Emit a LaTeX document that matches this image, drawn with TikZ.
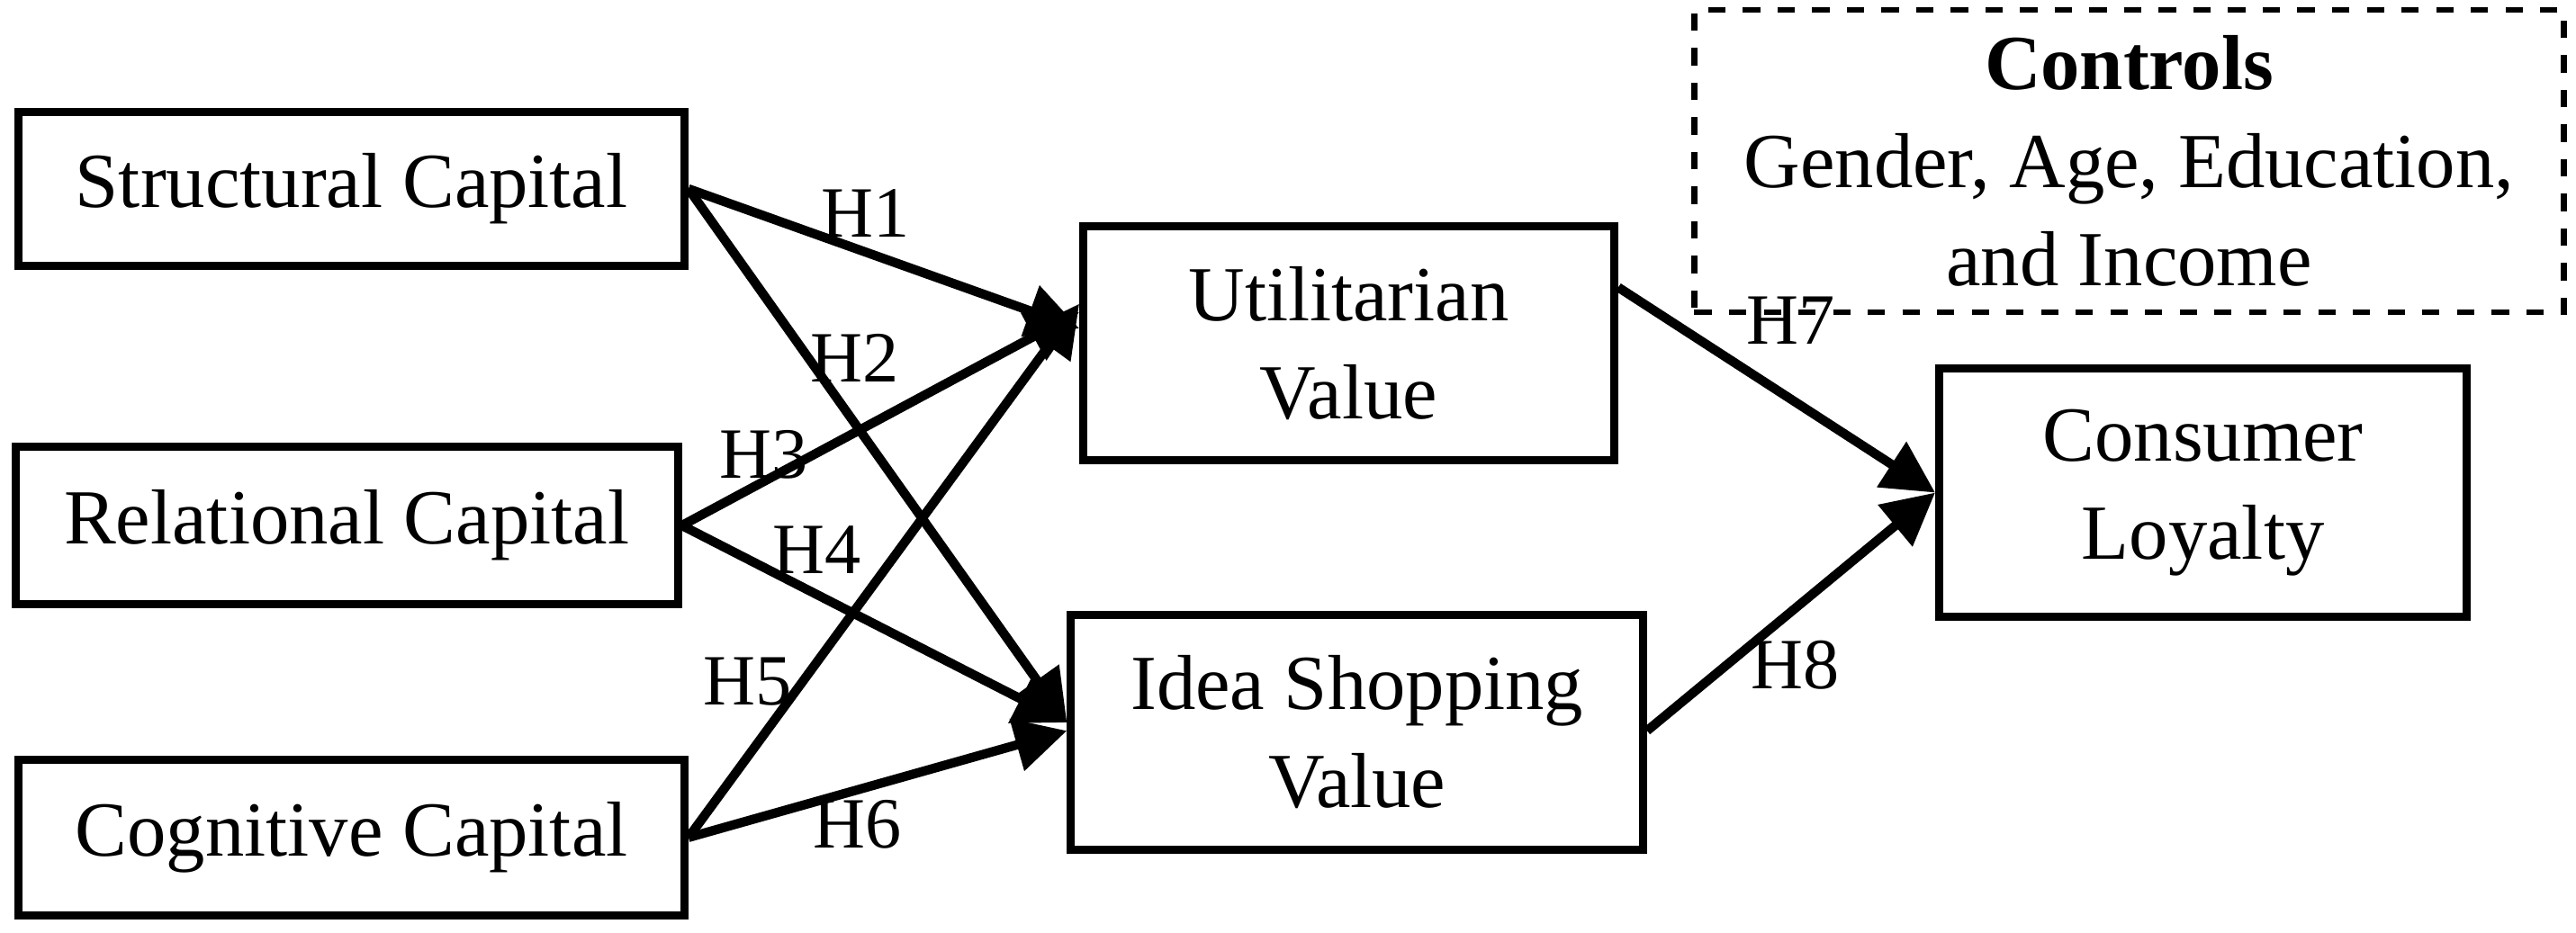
\documentclass[tikz,border=0pt]{standalone}
\usepackage{fontspec}
\setmainfont{Liberation Serif}
\usetikzlibrary{arrows.meta}
\begin{document}
\begin{tikzpicture}[x=0.01cm,y=-0.01cm,
  box/.style={draw,line width=1.4pt,inner sep=0pt,align=center,font=\fontsize{13.5}{17}\selectfont},
  arr/.style={line width=1.6pt,-{Triangle[length=9pt,width=9pt]}},
  lab/.style={font=\fontsize{12.5}{15}\selectfont}]
\useasboundingbox (0,0) rectangle (1568,568);
\node[box,minimum width=4.05cm,minimum height=0.94cm] (s) at (214,115) {Structural Capital};
\node[box,minimum width=4.03cm,minimum height=0.96cm] (r) at (211,320) {Relational Capital};
\node[box,minimum width=4.05cm,minimum height=0.95cm] (c) at (214,510) {Cognitive Capital};
\node[box,minimum width=3.23cm,minimum height=1.42cm] (u) at (821,209) {Utilitarian\\Value};
\node[box,minimum width=3.48cm,minimum height=1.43cm] (i) at (826,446) {Idea Shopping\\Value};
\node[box,minimum width=3.21cm,minimum height=1.51cm] (l) at (1341,300) {Consumer\\Loyalty};
\node[box,dashed,line width=1pt,minimum width=5.29cm,minimum height=1.84cm] (k) at (1296,98) {\textbf{Controls}\\Gender, Age, Education,\\and Income};
\draw[arr] (s.east) -- (u.west |- 0,200);
\draw[arr] (s.east) -- (i.west |- 0,440);
\draw[arr] (r.east) -- (u.west |- 0,190);
\draw[arr] (r.east) -- (i.west |- 0,440);
\draw[arr] (c.east) -- (u.west |- 0,185);
\draw[arr] (c.east) -- (i.west |- 0,445);
\draw[arr] (u.east |- 0,175) -- (l.west);
\draw[arr] (i.east |- 0,445) -- (l.west);
\node[lab] (h1) at (527,130) {H1};
\node[lab] (h2) at (520,218) {H2};
\node[lab] (h3) at (465,277) {H3};
\node[lab] (h4) at (497,335) {H4};
\node[lab] (h5) at (455,415) {H5};
\node[lab] (h6) at (522,502) {H6};
\node[lab] (h7) at (1090,195) {H7};
\node[lab] (h8) at (1093,405) {H8};
\end{tikzpicture}
\end{document}
